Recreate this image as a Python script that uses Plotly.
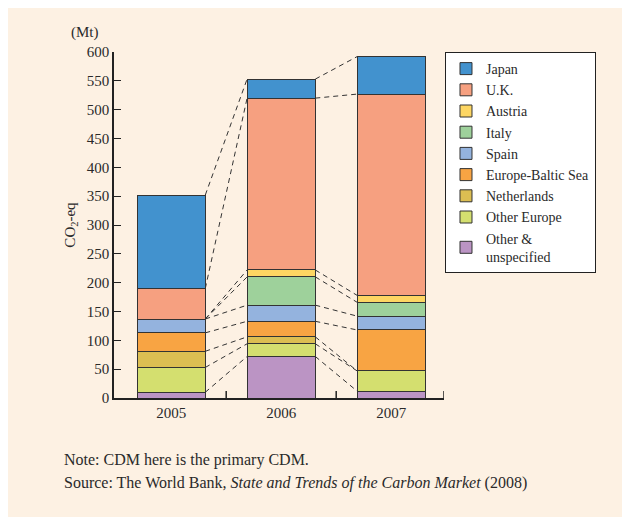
import numpy as np
import plotly.graph_objects as go

years = ["2005", "2006", "2007"]

# stacked bottom -> top
series = [
    "Other &<br>unspecified",
    "Other Europe",
    "Netherlands",
    "Europe-Baltic Sea",
    "Spain",
    "Italy",
    "Austria",
    "U.K.",
    "Japan",
]
other_unspecified = [10, 72, 12]
other_europe = [43, 22, 35]
netherlands = [28, 12, 0]
europe_baltic = [32, 27, 71]
spain = [24, 28, 24]
italy = [0, 49, 24]
austria = [0, 12, 12]
uk = [53, 298, 349]
japan = [162, 33, 65]

values = [other_unspecified, other_europe, netherlands, europe_baltic,
          spain, italy, austria, uk, japan]
colors = ["#bb94c4", "#d4df6f", "#dcbe52", "#f8a443", "#94b3de",
          "#9ed19b", "#fdd663", "#f6a080", "#4292ce"]

bg = "#fdf1e3"
ink = "#2a2a2a"
serif = "Liberation Serif, Times New Roman, serif"
bar_w = 0.62

fig = go.Figure()

for name, vals, col in zip(series, values, colors):
    fig.add_trace(go.Bar(
        x=list(range(len(years))), y=vals, name=name, width=bar_w,
        marker=dict(color=col, line=dict(color="#333", width=1)),
    ))

# dashed connectors between cumulative boundaries of neighbouring bars
tops = np.cumsum(np.array(values), axis=0)
for row in tops:
    for i in range(len(years) - 1):
        fig.add_trace(go.Scatter(
            x=[i + bar_w / 2, i + 1 - bar_w / 2], y=[row[i], row[i + 1]],
            mode="lines", line=dict(color="#333", width=1, dash="5px,4px"),
            showlegend=False, hoverinfo="skip",
        ))

fig.update_layout(
    width=622, height=509,
    barmode="stack",
    paper_bgcolor=bg, plot_bgcolor=bg,
    font=dict(family=serif, size=15, color=ink),
    margin=dict(l=106, r=186, t=44, b=119),
    legend=dict(
        x=1.003, y=1.0, xanchor="left", yanchor="top",
        bgcolor="white", bordercolor="#222", borderwidth=1,
        font=dict(family=serif, size=14), traceorder="reversed", tracegroupgap=0,
    ),
    xaxis=dict(
        range=[-0.52, 2.48], tickvals=[0, 1, 2], ticktext=years,
        tickfont=dict(family=serif, size=15),
        showline=True, linecolor="#222", linewidth=1.5,
        ticks="", showgrid=False, zeroline=False,
    ),
    yaxis=dict(
        range=[0, 600], dtick=50, showline=True, linecolor="#222", linewidth=1.5,
        tickfont=dict(family=serif, size=15),
        ticks="inside", ticklen=7, tickcolor="#222", showgrid=False, zeroline=False,
        title=dict(text="CO<sub>2</sub>-eq", standoff=8, font=dict(family=serif, size=15)),
    ),
    annotations=[
        dict(text="(Mt)", xref="paper", yref="paper", x=-0.135, y=1.026,
             xanchor="left", yanchor="bottom", showarrow=False),
        dict(text="Note: CDM here is the primary CDM.", xref="paper", yref="paper",
             x=-0.158, y=-0.18, xanchor="left", yanchor="middle", showarrow=False,
             font=dict(size=16)),
        dict(text="Source: The World Bank, <i>State and Trends of the Carbon Market</i> (2008)",
             xref="paper", yref="paper", x=-0.158, y=-0.245,
             xanchor="left", yanchor="middle", showarrow=False, font=dict(size=16)),
    ],
)

# inside tick marks on x axis between the categories
for xb in [0.5, 1.5, 2.48]:
    fig.add_shape(type="line", xref="x", yref="y", x0=xb, x1=xb, y0=0, y1=12,
                  line=dict(color="#222", width=1.5))

fig.write_html("out.html")
